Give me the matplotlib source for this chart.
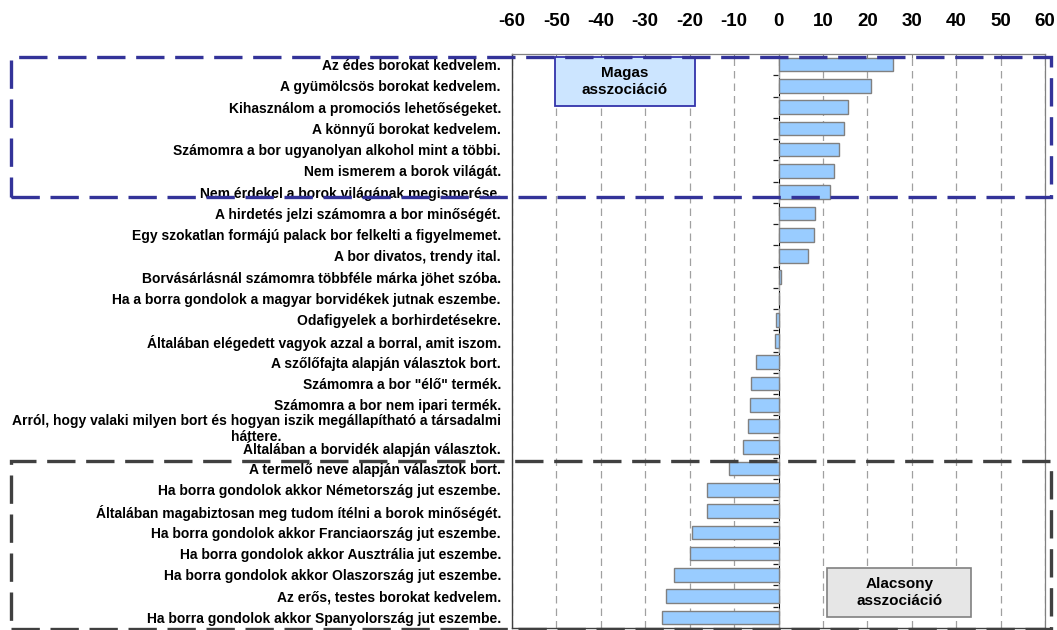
import matplotlib
matplotlib.use("Agg")
import matplotlib.pyplot as plt
from matplotlib.patches import Rectangle

plt.rcParams['font.family'] = ['Liberation Sans', 'DejaVu Sans']

categories = [
    "Az édes borokat kedvelem.",
    "A gyümölcsös borokat kedvelem.",
    "Kihasználom a promociós lehetőségeket.",
    "A könnyű borokat kedvelem.",
    "Számomra a bor ugyanolyan alkohol mint a többi.",
    "Nem ismerem a borok világát.",
    "Nem érdekel a borok világának megismerése.",
    "A hirdetés jelzi számomra a bor minőségét.",
    "Egy szokatlan formájú palack bor felkelti a figyelmemet.",
    "A bor divatos, trendy ital.",
    "Borvásárlásnál számomra többféle márka jöhet szóba.",
    "Ha a borra gondolok a magyar borvidékek jutnak eszembe.",
    "Odafigyelek a borhirdetésekre.",
    "Általában elégedett vagyok azzal a borral, amit iszom.",
    "A szőlőfajta alapján választok bort.",
    "Számomra a bor \"élő\" termék.",
    "Számomra a bor nem ipari termék.",
    "Arról, hogy valaki milyen bort és hogyan iszik megállapítható a társadalmi\nháttere.",
    "Általában a borvidék alapján választok.",
    "A termelő neve alapján választok bort.",
    "Ha borra gondolok akkor Németország jut eszembe.",
    "Általában magabiztosan meg tudom ítélni a borok minőségét.",
    "Ha borra gondolok akkor Franciaország jut eszembe.",
    "Ha borra gondolok akkor Ausztrália jut eszembe.",
    "Ha borra gondolok akkor Olaszország jut eszembe.",
    "Az erős, testes borokat kedvelem.",
    "Ha borra gondolok akkor Spanyolország jut eszembe.",
]

values = [25.8, 20.8, 15.6, 14.7, 13.6, 12.4, 11.6, 8.3, 8.1, 6.7,
          0.5, 0.2, -0.5, -0.7, -5.1, -6.1, -6.5, -6.8, -8.1,
          -11.1, -16.0, -16.0, -19.4, -20.0, -23.6, -25.4, -26.2]

x_ticks = [-60, -50, -40, -30, -20, -10, 0, 10, 20, 30, 40, 50, 60]

W, H = 1057, 630
fig = plt.figure(figsize=(W / 100, H / 100), dpi=100)
ax = fig.add_axes([512 / W, 1 - 628 / H, (1045 - 512) / W, (628 - 54) / H])

n = len(categories)
ypos = list(range(n))
ax.barh(ypos, values, height=0.64, color='#99CCFF', edgecolor='#808080', linewidth=1.0, zorder=3)

ax.set_xlim(-60, 60)
ax.set_ylim(n - 0.5, -0.5)

ax.xaxis.tick_top()
ax.set_xticks(x_ticks)
ax.set_xticklabels([str(t) for t in x_ticks], fontsize=13.5, fontweight='bold')
ax.tick_params(axis='x', direction='in', length=3, pad=17, color='#808080')

ax.set_yticks(ypos)
ax.set_yticklabels(categories, fontsize=10, fontweight='bold', multialignment='center', linespacing=1.2)
ax.tick_params(axis='y', length=0, pad=8)

ax.grid(axis='x', color='#A0A0A0', linestyle=(0, (6, 4)), linewidth=0.9, zorder=0)
for s in ['top', 'right']:
    ax.spines[s].set_color('#808080')
    ax.spines[s].set_linewidth(0.9)
for s in ['left', 'bottom']:
    ax.spines[s].set_color('#404040')
    ax.spines[s].set_linewidth(1.0)

# zero axis with category-boundary ticks
sec = ax.secondary_yaxis(0.5)
sec.set_yticks([i + 0.5 for i in range(n - 1)])
sec.set_yticklabels([])
sec.tick_params(axis='y', direction='out', length=3.5, width=0.9, color='#202020', left=True, right=False)
sec.spines['left'].set_color('#202020')
sec.spines['left'].set_linewidth(1.0)

# dashed grouping rectangles (figure pixel coords)
def fig_rect(x0, y0, x1, y1, color, lw):
    r = Rectangle((x0 / W, 1 - y1 / H), (x1 - x0) / W, (y1 - y0) / H,
                  transform=fig.transFigure, fill=False, edgecolor=color,
                  linewidth=lw, linestyle=(0, (8.5, 3.2)), clip_on=False, zorder=10)
    fig.add_artist(r)

fig_rect(10.7, 57, 1050.7, 197, '#333399', 2.4)
fig_rect(10.7, 461, 1051, 629.3, '#404040', 2.4)

# annotation boxes
ax.add_patch(Rectangle((-50.3, -0.37), 31.5, 2.3, facecolor='#CCE5FF', edgecolor='#3333AA',
                       linewidth=1.3, zorder=5))
ax.text(-34.55, 0.78, "Magas\nasszociáció", ha='center', va='center', fontsize=11,
        fontweight='bold', linespacing=1.3, zorder=6)

ax.add_patch(Rectangle((11.0, 23.66), 32.4, 2.34, facecolor='#E6E6E6', edgecolor='#808080',
                       linewidth=1.2, zorder=5))
ax.text(27.2, 24.83, "Alacsony\nasszociáció", ha='center', va='center', fontsize=11,
        fontweight='bold', linespacing=1.3, zorder=6)

fig.savefig('out.png', dpi=100)
